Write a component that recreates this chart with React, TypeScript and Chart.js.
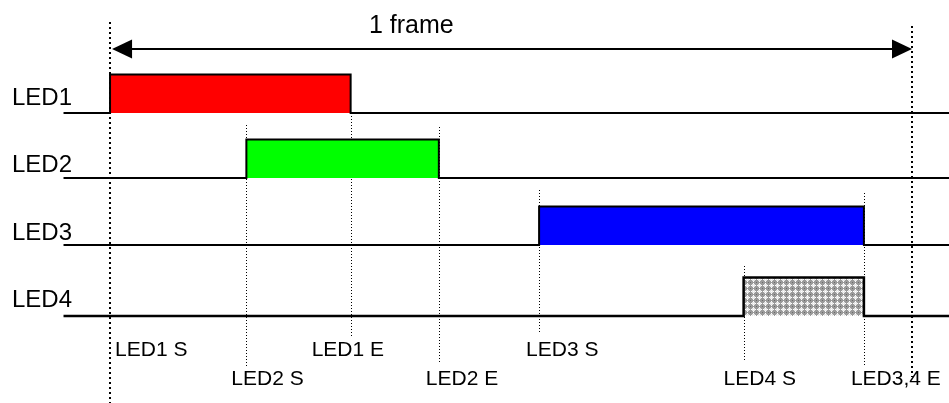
import React, { useEffect, useRef } from 'react';
import { Chart, registerables } from 'chart.js';

Chart.register(...registerables);

// ---------- data ----------
const LEDS = ['LED1', 'LED2', 'LED3', 'LED4'];
const LED_START = [0, 17, 53.5, 79];
const LED_END = [30, 41, 94, 94];
const LED_COLORS = ['#ff0000', '#00ff00', '#0000ff', 'hatch'];
const EVENT_LABELS = ['LED1 S', 'LED2 S', 'LED1 E', 'LED2 E', 'LED3 S', 'LED4 S', 'LED3,4 E'];
const EVENT_TIMES = [0, 17, 30, 41, 53.5, 79, 94];
const FRAME = [0, 100];
const FRAME_LABEL = '1 frame';

// ---------- layout ----------
const W = 949;
const H = 403;
const X_MIN = -13.72;
const X_MAX = 104.61;
const LINE_START = -5.8;
const ROW_BASE = [113, 178, 245, 316];
const PULSE_H = 38.5;
const ROW_LABEL_X = 12;
const ROW_LABEL_DROP = [8, 6, 5, 9];
const EVENT_TOP = [null, 125, 113, 127, 190, 266, 193];
const EVENT_BOTTOM = [null, 368, 338, 363, 332, 360, 365];
const EVENT_LABEL_DX = [5, -15, -39, -13, -13, -20, -13];
const EVENT_LABEL_Y = [356, 385, 356, 385, 356, 385, 385];
const FRAME_TOP = [22, 26];
const FRAME_BOTTOM = [403, 377];
const ARROW_Y = 49;
const FRAME_LABEL_X = 369;
const FRAME_LABEL_Y = 33;
const FONT = '"Liberation Sans", Arial, sans-serif';

function makeHatch(): CanvasPattern | string {
  const c = document.createElement('canvas');
  c.width = 6;
  c.height = 6;
  const g = c.getContext('2d');
  if (!g) return '#999';
  g.fillStyle = '#9a9a9a';
  g.fillRect(0, 0, 6, 6);
  g.fillStyle = '#ffffff';
  g.fillRect(3, 1, 1, 5);
  g.fillRect(1, 3, 5, 1);
  g.fillStyle = '#e6e6e6';
  g.fillRect(2, 2, 3, 3);
  g.fillStyle = '#ffffff';
  g.fillRect(3, 3, 1, 1);
  g.fillStyle = '#6a6a6a';
  g.fillRect(0, 0, 1, 1);
  const p = g.createPattern(c, 'repeat');
  return p || '#999';
}

export default function App() {
  const ref = useRef<HTMLCanvasElement | null>(null);

  useEffect(() => {
    const canvas = ref.current;
    if (!canvas) return;
    const hatch = makeHatch();

    const datasets = LEDS.map((name, i) => {
      const base = ROW_BASE[i];
      const top = base - PULSE_H;
      return {
        label: name,
        data: [
          { x: LINE_START, y: base },
          { x: LED_START[i], y: base },
          { x: LED_START[i], y: top },
          { x: LED_END[i], y: top },
          { x: LED_END[i], y: base },
          { x: X_MAX, y: base },
        ],
        showLine: true,
        borderColor: '#000000',
        borderWidth: i === 3 ? 2.5 : 2,
        borderJoinStyle: 'miter' as const,
        borderCapStyle: 'butt' as const,
        backgroundColor: LED_COLORS[i] === 'hatch' ? hatch : LED_COLORS[i],
        fill: { value: base },
        pointRadius: 0,
        tension: 0,
      };
    });

    const timingPlugin = {
      id: 'timing',
      beforeDatasetsDraw(chart: any) {
        const ctx = chart.ctx;
        const xs = chart.scales.x;
        ctx.save();
        ctx.strokeStyle = '#000';
        ctx.lineWidth = 1;
        ctx.setLineDash([1, 2]);
        EVENT_TIMES.forEach((t, i) => {
          const top = EVENT_TOP[i];
          const bot = EVENT_BOTTOM[i];
          if (top == null || bot == null) return;
          const x = Math.round(xs.getPixelForValue(t)) + 0.5;
          ctx.beginPath();
          ctx.moveTo(x, top);
          ctx.lineTo(x, bot);
          ctx.stroke();
        });
        ctx.lineWidth = 2;
        ctx.setLineDash([2, 3]);
        FRAME.forEach((t, i) => {
          const x = Math.round(xs.getPixelForValue(t));
          ctx.beginPath();
          ctx.moveTo(x, FRAME_TOP[i]);
          ctx.lineTo(x, FRAME_BOTTOM[i]);
          ctx.stroke();
        });
        ctx.restore();
      },
      afterDatasetsDraw(chart: any) {
        const ctx = chart.ctx;
        const xs = chart.scales.x;
        ctx.save();
        // frame arrow
        const x0 = xs.getPixelForValue(FRAME[0]);
        const x1 = xs.getPixelForValue(FRAME[1]);
        const hl = 20;
        const hw = 9.5;
        ctx.strokeStyle = '#000';
        ctx.fillStyle = '#000';
        ctx.lineWidth = 2;
        ctx.setLineDash([]);
        ctx.beginPath();
        ctx.moveTo(x0 + hl, ARROW_Y);
        ctx.lineTo(x1 - hl, ARROW_Y);
        ctx.stroke();
        ctx.beginPath();
        ctx.moveTo(x0 + 2, ARROW_Y);
        ctx.lineTo(x0 + 2 + hl, ARROW_Y - hw);
        ctx.lineTo(x0 + 2 + hl, ARROW_Y + hw);
        ctx.closePath();
        ctx.fill();
        ctx.beginPath();
        ctx.moveTo(x1, ARROW_Y);
        ctx.lineTo(x1 - hl, ARROW_Y - hw);
        ctx.lineTo(x1 - hl, ARROW_Y + hw);
        ctx.closePath();
        ctx.fill();

        ctx.textBaseline = 'alphabetic';
        ctx.textAlign = 'left';
        ctx.fillStyle = '#000';
        ctx.font = `25px ${FONT}`;
        ctx.fillText(FRAME_LABEL, FRAME_LABEL_X, FRAME_LABEL_Y);

        ctx.font = `24px ${FONT}`;
        LEDS.forEach((name, i) => {
          ctx.fillText(name, ROW_LABEL_X, ROW_BASE[i] - ROW_LABEL_DROP[i]);
        });

        ctx.font = `21px ${FONT}`;
        EVENT_LABELS.forEach((lab, i) => {
          const x = xs.getPixelForValue(EVENT_TIMES[i]) + EVENT_LABEL_DX[i];
          ctx.fillText(lab, x, EVENT_LABEL_Y[i]);
        });
        ctx.restore();
      },
    };

    const chart = new Chart(canvas, {
      type: 'scatter',
      data: { datasets: datasets as any },
      options: {
        animation: false,
        responsive: false,
        devicePixelRatio: 1,
        layout: { padding: 0 },
        events: [],
        scales: {
          x: { type: 'linear', min: X_MIN, max: X_MAX, display: false },
          y: { type: 'linear', min: 0, max: H, reverse: true, display: false },
        },
        plugins: {
          legend: { display: false },
          tooltip: { enabled: false },
          filler: { propagate: false },
        },
      },
      plugins: [timingPlugin],
    });

    return () => chart.destroy();
  }, []);

  return (
    <div style={{ position: 'fixed', left: 0, top: 0, width: W, height: H, background: '#fff' }}>
      <canvas ref={ref} width={W} height={H} style={{ width: W, height: H, display: 'block' }} />
    </div>
  );
}
